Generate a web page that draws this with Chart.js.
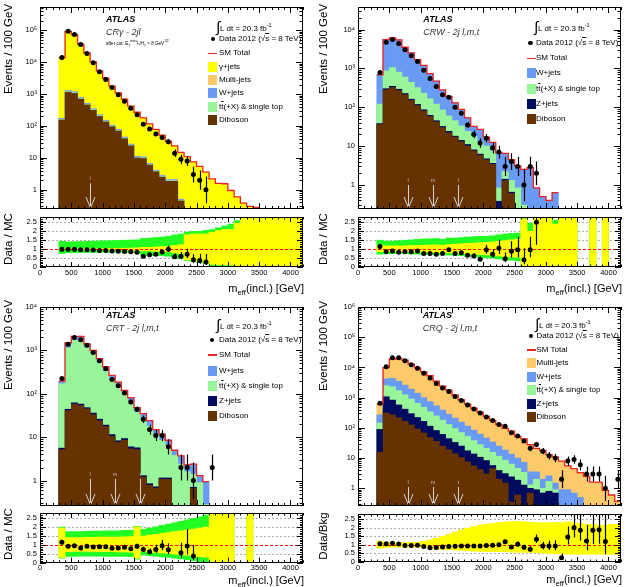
<!DOCTYPE html>
<html lang="en">
<head>
<meta charset="UTF-8">
<title>ATLAS control regions: m_eff(incl.)</title>
<script src="https://cdn.jsdelivr.net/npm/chart.js"></script>
<style>
  body { margin: 0; background: #fff; }
  #page { position: relative; width: 627px; height: 587px; overflow: hidden;
          font-family: "Liberation Sans", Arial, sans-serif; color: #000; }
  canvas { position: absolute; }
  .t { position: absolute; white-space: nowrap; line-height: 1; transform: translateY(-50%); }
  .t sub, .t sup { font-size: 70%; line-height: 0; }
  .rot { transform: translate(-50%, -50%) rotate(-90deg); }
  .right { transform: translate(-100%, -50%); }
  .box { position: absolute; }
  .ol { text-decoration: overline; }
</style>
</head>
<body>
<div id="page"></div>
<script>
// bins of 100 GeV, centres
const binCenters = [350, 450, 550, 650, 750, 850, 950, 1050, 1150, 1250, 1350, 1450, 1550, 1650, 1750,
  1850, 1950, 2050, 2150, 2250, 2350, 2450, 2550, 2650, 2750, 2850, 2950, 3050, 3150, 3250, 3350,
  3450, 3550, 3650, 3750, 3850, 3950, 4050, 4150];
const binWidth = 100;
const xTickValues = [0, 500, 1000, 1500, 2000, 2500, 3000, 3500, 4000];
const ratioTickValues = [0, 0.5, 1, 1.5, 2, 2.5];

// ---- CR gamma - 2jl ----
const crgData = [14000, 93000, 74000, 36000, 18700, 9700, 5000, 2900, 1600, 960, 600, 360, 225, 113, 80, 56, 44, 32, 14, 9, 8, 3, 2, 1];
const crgTotal = [14000, 93000, 74000, 37000, 19500, 10200, 5400, 3150, 1780, 1090, 690, 420, 270, 180, 117, 78, 52, 33, 24, 15, 11, 7.5, 5.4, 3.6, 2.2, 1.6, 1.55, 0.95, 0.6, 0.38, 0.3, 0.28];
const crgMultiTop = [178, 1320, 1210, 805, 530, 356, 230, 155, 109, 80, 46, 27.6, 11.5, 11, 6.9, 4.25, 2.9, 2.13, 2.13, 0.52];
const crgWTop = [174, 1290, 1180, 785, 515, 347, 224, 151, 106, 78, 45, 27, 11.2, 10.8, 6.7, 4.1, 2.8, 2.07, 2.07, 0.5];
const crgTtTop = [163, 1210, 1100, 735, 483, 325, 210, 142, 100, 73.5, 42, 25.2, 10.5, 10.1, 6.3, 3.9, 2.6, 1.94, 1.94, 0.47];
const crgDiboson = [155, 1150, 1050, 700, 460, 310, 200, 135, 95, 70, 40, 24, 10, 9.6, 6, 3.7, 2.5, 1.85, 1.85, 0.45];
const crgRatio = [1.0, 1.0, 1.0, 0.97, 0.96, 0.95, 0.93, 0.92, 0.9, 0.88, 0.87, 0.85, 0.83, 0.6, 0.68, 0.72, 0.84, 1.0, 0.58, 0.6, 0.72, 0.4, 0.37, 0.28];
const crgGreenLo = [0.76, 0.8, 0.8, 0.81, 0.82, 0.82, 0.83, 0.83, 0.83, 0.83, 0.82, 0.82, 0.8, 0.65, 0.65, 0.64, 0.63, 0.6, 0.5, 0.48, 0.35, 0.3, 0.25, 0.2, 0.08, 0.05, 0.05, 0, 0, 0, 0, 0, 0, 0, 0, 0, 0, 0, 0];
const crgGreenHi = [1.44, 1.4, 1.42, 1.43, 1.44, 1.45, 1.46, 1.47, 1.48, 1.49, 1.5, 1.51, 1.52, 1.6, 1.62, 1.65, 1.68, 1.72, 1.8, 1.85, 1.95, 2.0, 2.0, 2.05, 2.1, 2.2, 2.3, 2.4, 2.6, 2.8, 2.8, 2.8, 2.8, 2.8, 2.8, 2.8, 2.8, 2.8, 2.8];
const crgYellowLo = [0.98, 0.99, 0.99, 0.99, 0.98, 0.98, 0.97, 0.97, 0.96, 0.96, 0.95, 0.94, 0.93, 0.9, 0.9, 0.88, 0.86, 0.85, 0.8, 0.75, 0.4, 0.38, 0.32, 0.28, 0.15, 0.12, 0.12, 0.1, 0.05, 0, 0, 0, 0, 0, 0, 0, 0, 0, 0];
const crgYellowHi = [1.02, 1.01, 1.01, 1.01, 1.02, 1.02, 1.03, 1.03, 1.04, 1.04, 1.05, 1.06, 1.07, 1.1, 1.1, 1.12, 1.14, 1.15, 1.2, 1.25, 1.8, 1.85, 1.85, 1.85, 1.95, 2.05, 2.1, 2.1, 2.45, 2.8, 2.8, 2.8, 2.8, 2.8, 2.8, 2.8, 2.8, 2.8, 2.8];

// ---- CRW - 2j l,m,t ----
const crwData = [780, 4700, 5500, 4400, 3000, 2100, 1500, 900, 550, 340, 210, 180, 100, 70, 35, 20, 12, 16, 9, 7, 3, 4, 3, 1, 3, 2];
const crwTotal = [680, 5500, 6100, 5400, 3500, 2500, 1670, 1200, 730, 470, 280, 190, 130, 88, 53, 32, 27, 17, 12.5, 6.7, 6.5, 4.5, 3.1, 2.5, 2.8, 0.84, 0.5, 0.4, 0.63];
const crwTtTop = [120, 870, 1050, 800, 600, 440, 320, 230, 165, 120, 85, 60, 45, 33, 24, 18, 13, 10, 7.5, 0.84, 2.2, 1.3, 0.84, 0.3];
const crwZTop = [38, 300, 345, 290, 225, 160, 118, 86, 62, 45, 32, 24, 18, 14, 11, 8, 6.2, 4.7, 3.6, 0.38, 1.4, 0.65];
const crwDiboson = [36, 280, 320, 270, 210, 150, 110, 80, 58, 42, 30, 22, 17, 13, 10, 7.5, 5.8, 4.4, 3.4, 0.2, 1.3, 0.6];
const crwRatio = [1.15, 0.85, 0.9, 0.82, 0.86, 0.85, 0.9, 0.75, 0.75, 0.72, 0.76, 0.96, 0.76, 0.8, 0.66, 0.62, 0.44, 0.96, 0.72, 1.05, 0.46, 0.88, 0.96, 0.4, 0.96, 2.5];
const crwGreenLo = [0.72, 0.75, 0.75, 0.75, 0.74, 0.73, 0.72, 0.71, 0.7, 0.68, 0.7, 0.67, 0.66, 0.63, 0.6, 0.58, 0.55, 0.52, 0.5, 0.45, 0.4, 0.38, 0.35, 0, 0, 0, 0, 0, 0, 0, 0, 0, null, null, 0, null, 0];
const crwGreenHi = [1.5, 1.45, 1.45, 1.47, 1.5, 1.52, 1.55, 1.57, 1.58, 1.6, 1.55, 1.63, 1.62, 1.65, 1.68, 1.7, 1.72, 1.72, 1.75, 1.8, 1.85, 1.88, 1.9, 2.8, 2.45, 2.8, 2.8, 2.8, 2.62, 2.8, 2.8, 2.8, null, null, 2.8, null, 2.8];
const crwYellowLo = [0.85, 0.87, 0.87, 0.87, 0.86, 0.85, 0.84, 0.83, 0.82, 0.81, 0.82, 0.79, 0.78, 0.76, 0.74, 0.72, 0.7, 0.68, 0.66, 0.62, 0.58, 0.56, 0.55, 0, 0, 0, 0, 0, 0, 0, 0, 0, null, null, 0, null, 0];
const crwYellowHi = [1.2, 1.18, 1.18, 1.18, 1.19, 1.2, 1.21, 1.22, 1.23, 1.24, 1.22, 1.26, 1.28, 1.3, 1.32, 1.34, 1.36, 1.38, 1.4, 1.44, 1.48, 1.52, 1.55, 2.7, 2.0, 2.8, 2.8, 2.8, 2.4, 2.8, 2.8, 2.8, null, null, 2.8, null, 2.8];

// ---- CRT - 2j l,m,t ----
const crtData = [225, 1380, 1990, 1750, 1310, 890, 580, 380, 215, 154, 105, 65, 44, 26, 15, 11, 11, 6, null, 2, 2, 1, null, null, 2];
const crtTotal = [195, 1500, 2100, 2100, 1420, 1000, 645, 420, 265, 185, 120, 82, 48, 35, 24, 15, 11.8, 8.5, 5, 3.7, 2.3, 2.4, 1.3, 0.95];
const crtTtTop = [170, 1150, 1700, 1650, 1150, 800, 510, 330, 205, 145, 95, 64, 37, 27, 18, 11.5, 8.5, 6.2, 3.8, 2.4, 1.6, 1.4, 0.9, 0.28];
const crtZTop = [5.6, 44, 62, 58, 48, 36, 26, 19, 11.5, 8.3, 9.3, 6, 5.7, 1.3, 0.85, 0.72, 1.15, 1.15, null, null, null, 0.7];
const crtDiboson = [5.2, 41, 58, 54, 45, 33, 24, 17.5, 10.4, 7.6, 8.5, 5.4, 5.2, 1.2, 0.78, 0.66, 1.07, 1.07, null, null, null, 0.66];
const crtRatio = [1.15, 0.92, 0.95, 0.83, 0.92, 0.89, 0.9, 0.9, 0.81, 0.83, 0.87, 0.79, 0.92, 0.75, 0.62, 0.75, 0.95, 0.73, null, 0.56, 0.94, 0.38];
const crtGreenLo = [0.25, 0.35, 0.36, 0.37, 0.37, 0.37, 0.37, 0.36, 0.36, 0.35, 0.35, 0.34, 0.2, 0.42, 0.4, 0.37, 0.33, 0.3, 0.26, 0.22, 0.17, 0.12, 0.06, 0.02, 0, 0, 0, 0, null, null, 0];
const crtGreenHi = [2.0, 1.75, 1.75, 1.76, 1.77, 1.78, 1.78, 1.79, 1.8, 1.8, 1.82, 1.83, 2.05, 1.88, 1.95, 2.02, 2.1, 2.17, 2.25, 2.33, 2.42, 2.5, 2.58, 2.68, 2.8, 2.8, 2.8, 2.8, null, null, 2.8];
const crtYellowLo = [0.3, 0.62, 0.63, 0.63, 0.63, 0.63, 0.62, 0.62, 0.62, 0.61, 0.61, 0.6, 0.25, 0.62, 0.6, 0.58, 0.55, 0.52, 0.48, 0.45, 0.42, 0.38, 0.34, 0.3, 0, 0, 0, 0, null, null, 0];
const crtYellowHi = [1.95, 1.42, 1.42, 1.42, 1.43, 1.43, 1.44, 1.44, 1.45, 1.45, 1.46, 1.47, 2.0, 1.5, 1.55, 1.6, 1.65, 1.7, 1.75, 1.8, 1.85, 1.9, 1.95, 2.0, 2.8, 2.8, 2.8, 2.8, null, null, 2.8];

// ---- CRQ - 2j l,m,t ----
const crqData = [650, 10600, 21000, 21000, 16600, 12300, 9400, 6400, 4500, 2960, 2100, 1600, 1100, 800, 575, 425, 310, 230, 174, 130, 114, 69, 54, 37, 21, 28, 17, 12, 10, 2, 8, 9, 6, 3, 3, 3, 1, null, 2];
const crqTotal = [610, 9900, 19000, 20000, 17300, 12800, 9700, 7100, 5400, 3500, 2400, 1780, 1200, 850, 610, 450, 330, 240, 178, 130, 97, 78, 52, 43, 28, 21, 18, 13, 10.7, 8, 5.5, 4.5, 3.3, 2.5, 1.6, 1.6, 0.85, 0.6, 0.37];
const crqWTop = [270, 4200, 4400, 3500, 2600, 1900, 1400, 1000, 740, 540, 390, 285, 210, 155, 115, 84, 62, 46, 34, 25, 18.5, 13.5, 10, 7.3, 3.5, 3.5, 2.0, 2.6, 1.5, 0.9, 0.9, 0.7, 0.5];
const crqTtTop = [145, 2500, 2300, 1700, 1250, 900, 650, 480, 340, 250, 180, 130, 95, 70, 52, 38, 28, 21, 15.5, 11.5, 8.5, 6.3, 4.6, 3.4, 1.3, 2.0, 1.0, 1.7, 0.9];
const crqZTop = [89, 1070, 830, 575, 415, 295, 220, 165, 114, 82, 61, 44, 33, 25, 17.5, 13.7, 10.7, 8.3, 5.7, 3.9, 3.07, 2.4, 1.86, 1.28, 1.0, 0.9, 0.7, 0.8, 0.7];
const crqDiboson = [15.5, 310, 270, 215, 165, 125, 92, 68, 48, 36, 25, 19, 14, 10.5, 7.5, 5.5, 4.2, 3, 4.5, 2.0, 1.5, 0.35, 0.6, 0.2, 0.7];
const crqRatio = [1.07, 1.07, 1.1, 1.05, 0.96, 0.96, 0.97, 0.9, 0.83, 0.85, 0.88, 0.9, 0.92, 0.94, 0.94, 0.94, 0.94, 0.96, 0.98, 1.0, 1.18, 0.88, 1.04, 0.86, 0.74, 1.33, 0.93, 0.93, 0.93, 0.25, 1.46, 2.0, 1.85, 1.22, 1.85, 1.88, 1.2];
const crqYellowLo = [0.8, 0.85, 0.87, 0.87, 0.86, 0.86, 0.85, 0.84, 0.8, 0.77, 0.74, 0.72, 0.7, 0.67, 0.65, 0.63, 0.62, 0.6, 0.6, 0.6, 0.6, 0.58, 0.57, 0.56, 0.56, 0.55, 0.52, 0.5, 0.48, 0.46, 0.45, 0.45, 0.45, 0.45, 0.45, 0.45, 0.45, 0.45, 0.45];
const crqYellowHi = [1.22, 1.15, 1.13, 1.13, 1.14, 1.15, 1.16, 1.2, 1.28, 1.38, 1.5, 1.62, 1.75, 1.88, 1.98, 2.07, 2.15, 2.2, 2.25, 2.3, 2.33, 2.35, 2.37, 2.35, 2.32, 2.3, 2.28, 2.3, 2.3, 2.3, 2.35, 2.3, 2.25, 2.2, 2.2, 2.15, 2.15, 2.2, 2.2];

// signal-region cuts (arrows)
const cutsLMT = [800, 1200, 1600];
const cutLabelsLMT = ['l', 'm', 't'];

const COL = {
  gamma: '#ffff00', multi: '#fcc96b', wjets: '#6a9bf4', ttbar: '#99f599',
  zjets: '#000a5e', diboson: '#663300', total: '#ee2222', band: '#22ff22', mcstat: '#ffff00'
};
const FONT = '"Liberation Sans", Arial, sans-serif';
const page = document.getElementById('page');

const panels = [
  { frame: {l: 40, r: 303, top: 5, bottom: 211, rTop: 215, rBottom: 267}, yRange: [0.25, 5.4e5],
    data: crgData, total: crgTotal, ratio: crgRatio,
    stack: [crgDiboson, crgTtTop, crgWTop, crgMultiTop, crgTotal],
    stackColors: [COL.diboson, COL.ttbar, COL.wjets, COL.multi, COL.gamma],
    bands: [[crgYellowLo, crgYellowHi, COL.mcstat], [crgGreenLo, crgGreenHi, COL.band]],
    cuts: [800], cutLabels: ['l'], arrowTop: 1.6, ratioTitle: 'Data / MC',
    yTitleX: 9, yTitleY: 49, rTitleY: 239, xTitleY: 288,
    atlas: [106, 18.5], region: 'CRγ - 2jl', extra: 'after cut: E<sub>T</sub><sup>miss</sup>/√H<sub>T</sub> &gt; 8 GeV<sup>1/2</sup>',
    legend: {boxX: 208, textX: 219, markX: 212.7, lumi: [216, 25], dataY: 39.3, smY: 53.3,
      boxes: [[COL.gamma, 'γ+jets', 66.7], [COL.multi, 'Multi-jets', 80], [COL.wjets, 'W+jets', 93.3],
              [COL.ttbar, 'tt̄', 107], [COL.diboson, 'Diboson', 120.3]]} },
  { frame: {l: 358, r: 621, top: 5, bottom: 211, rTop: 215, rBottom: 267}, yRange: [0.24, 3.8e4],
    data: crwData, total: crwTotal, ratio: crwRatio,
    stack: [crwDiboson, crwZTop, crwTtTop, crwTotal],
    stackColors: [COL.diboson, COL.zjets, COL.ttbar, COL.wjets],
    bands: [[crwYellowLo, crwYellowHi, COL.mcstat], [crwGreenLo, crwGreenHi, COL.band]],
    cuts: cutsLMT, cutLabels: cutLabelsLMT, arrowTop: 1.0, ratioTitle: 'Data / MC',
    yTitleX: 324, yTitleY: 49, rTitleY: 239, xTitleY: 288,
    atlas: [423.3, 19], region: 'CRW - 2j l,m,t',
    legend: {boxX: 527, textX: 536, markX: 530.5, lumi: [534, 25], dataY: 42.7, smY: 58.3,
      boxes: [[COL.wjets, 'W+jets', 73.3], [COL.ttbar, 'tt̄', 89.3], [COL.zjets, 'Z+jets', 104.3],
              [COL.diboson, 'Diboson', 118.7]]} },
  { frame: {l: 40, r: 303, top: 305, bottom: 508, rTop: 511, rBottom: 562.7}, yRange: [0.26, 1e4],
    data: crtData, total: crtTotal, ratio: crtRatio,
    stack: [crtDiboson, crtZTop, crtTtTop, crtTotal],
    stackColors: [COL.diboson, COL.zjets, COL.ttbar, COL.wjets],
    bands: [[crtYellowLo, crtYellowHi, COL.mcstat], [crtGreenLo, crtGreenHi, COL.band]],
    cuts: cutsLMT, cutLabels: cutLabelsLMT, arrowTop: 1.1, ratioTitle: 'Data / MC',
    yTitleX: 9, yTitleY: 345, rTitleY: 534, xTitleY: 580,
    atlas: [106, 315], region: 'CRT - 2j l,m,t',
    legend: {boxX: 208, textX: 219, markX: 212.3, lumi: [216, 323.3], dataY: 340, smY: 355,
      boxes: [[COL.wjets, 'W+jets', 370.7], [COL.ttbar, 'tt̄', 386], [COL.zjets, 'Z+jets', 401],
              [COL.diboson, 'Diboson', 416]]} },
  { frame: {l: 358, r: 621, top: 305, bottom: 508, rTop: 511.7, rBottom: 561.7}, yRange: [0.26, 1e6],
    data: crqData, total: crqTotal, ratio: crqRatio,
    stack: [crqDiboson, crqZTop, crqTtTop, crqWTop, crqTotal],
    stackColors: [COL.diboson, COL.zjets, COL.ttbar, COL.wjets, COL.multi],
    bands: [[crqYellowLo, crqYellowHi, COL.mcstat]],
    cuts: cutsLMT, cutLabels: cutLabelsLMT, arrowTop: 1.1, ratioTitle: 'Data/Bkg',
    yTitleX: 324, yTitleY: 346, rTitleY: 536, xTitleY: 579,
    atlas: [422.7, 315], region: 'CRQ - 2j l,m,t',
    legend: {boxX: 527, textX: 536.5, markX: 530.7, lumi: [535, 322.3], dataY: 335.7, smY: 350,
      boxes: [[COL.multi, 'Multi-jets', 363.3], [COL.wjets, 'W+jets', 376.7], [COL.ttbar, 'tt̄', 390],
              [COL.zjets, 'Z+jets', 403.7], [COL.diboson, 'Diboson', 417]]} }
];

// ---------- helpers ----------
function pts(values) {
  const out = [];
  values.forEach((v, i) => { if (v != null) out.push({x: binCenters[i], y: v}); });
  return out;
}
function rangePts(lo, hi) {
  const out = [];
  lo.forEach((v, i) => { if (v != null && hi[i] != null) out.push({x: binCenters[i], y: [v, hi[i]]}); });
  return out;
}
function stepPts(values) {
  const out = values.map((v, i) => ({x: binCenters[i] - binWidth / 2, y: v}));
  const last = values.length - 1;
  out.push({x: binCenters[last] + binWidth / 2, y: values[last]});
  return out;
}
// ATLAS-style Poisson error bars
const errUp = n => 0.5 + Math.sqrt(n + 0.25);
const errDown = n => Math.sqrt(n + 0.25) - 0.5;

function addCanvas(left, top, w, h) {
  const c = document.createElement('canvas');
  c.width = w; c.height = h;
  c.style.left = left + 'px'; c.style.top = top + 'px';
  c.style.width = w + 'px'; c.style.height = h + 'px';
  page.appendChild(c);
  return c;
}
function txt(html, x, y, size, cls, style) {
  const d = document.createElement('div');
  d.className = 't' + (cls ? ' ' + cls : '');
  d.innerHTML = html;
  d.style.left = x + 'px'; d.style.top = y + 'px'; d.style.fontSize = size + 'px';
  if (style) Object.assign(d.style, style);
  page.appendChild(d);
  return d;
}
function rect(x, y, w, h, color, extra) {
  const d = document.createElement('div');
  d.className = 'box';
  Object.assign(d.style, {left: x + 'px', top: y + 'px', width: w + 'px', height: h + 'px', background: color}, extra || {});
  page.appendChild(d);
}
const SUP = {'-': '⁻', '0': '⁰', '1': '¹', '2': '²', '3': '³', '4': '⁴', '5': '⁵', '6': '⁶'};
function logLabel(v) {
  const l = Math.log10(v), r = Math.round(l);
  if (Math.abs(l - r) > 1e-6) return '';
  if (r === 0) return '1';
  if (r === 1) return '10';
  return '10' + String(r).split('').map(c => SUP[c]).join('');
}
const fixedTicks = values => scale => { scale.ticks = values.map(v => ({value: v})); };

// ---------- plugins ----------
const rootFrame = {
  id: 'rootFrame',
  afterDraw(chart, args, o) {
    const {ctx, chartArea: a, scales: {x, y}} = chart;
    ctx.save();
    ctx.strokeStyle = '#000';
    ctx.lineWidth = 1;
    ctx.beginPath();
    for (let v = x.min; v <= x.max; v += 100) {
      const px = Math.round(x.getPixelForValue(v)) + 0.5;
      const len = v % 500 === 0 ? o.xMajor : o.xMinor;
      ctx.moveTo(px, a.bottom); ctx.lineTo(px, a.bottom - len);
      ctx.moveTo(px, a.top); ctx.lineTo(px, a.top + len);
    }
    const yt = [];
    if (y.type === 'logarithmic') {
      for (let e = Math.floor(Math.log10(y.min)); e <= Math.ceil(Math.log10(y.max)); e++) {
        for (let m = 1; m <= 9; m++) {
          const v = m * Math.pow(10, e);
          if (v >= y.min && v <= y.max) yt.push([v, m === 1]);
        }
      }
    } else {
      for (let k = 0; k * 0.1 <= y.max + 1e-9; k++) yt.push([k * 0.1, k % 5 === 0]);
    }
    yt.forEach(([v, major]) => {
      const py = Math.round(y.getPixelForValue(v)) + 0.5;
      const len = major ? o.yMajor : o.yMinor;
      ctx.moveTo(a.left, py); ctx.lineTo(a.left + len, py);
      ctx.moveTo(a.right, py); ctx.lineTo(a.right - len, py);
    });
    ctx.stroke();
    ctx.strokeRect(Math.round(a.left) + 0.5, Math.round(a.top) + 0.5,
                   Math.round(a.right - a.left) - 1, Math.round(a.bottom - a.top) - 1);
    ctx.restore();
  }
};

const errorBars = {
  id: 'errorBars',
  beforeDatasetDraw(chart, args) {
    const ds = chart.data.datasets[args.index];
    if (!ds.errHi) return;
    const {ctx, chartArea: a, scales: {x, y}} = chart;
    ctx.save();
    ctx.beginPath(); ctx.rect(a.left, a.top, a.right - a.left, a.bottom - a.top); ctx.clip();
    ctx.strokeStyle = '#000'; ctx.lineWidth = 1.2;
    ctx.beginPath();
    ds.data.forEach((p, i) => {
      const px = Math.round(x.getPixelForValue(p.x)) + 0.5;
      const lo = p.y - ds.errLo[i];
      const top = y.getPixelForValue(p.y + ds.errHi[i]);
      const bot = (y.type === 'logarithmic' && lo <= 0) ? a.bottom + 5 : y.getPixelForValue(lo);
      ctx.moveTo(px, top); ctx.lineTo(px, bot);
    });
    ctx.stroke();
    ctx.restore();
  }
};

const ratioLines = {
  id: 'ratioLines',
  beforeDatasetsDraw(chart) {
    const {ctx, chartArea: a, scales: {y}} = chart;
    if (y.type === 'logarithmic') return;
    ctx.save();
    ctx.strokeStyle = '#9a9a9a'; ctx.lineWidth = 0.8; ctx.setLineDash([2, 2]);
    [0.5, 1.5, 2, 2.5].forEach(v => {
      const py = Math.round(y.getPixelForValue(v)) + 0.5;
      ctx.beginPath(); ctx.moveTo(a.left, py); ctx.lineTo(a.right, py); ctx.stroke();
    });
    ctx.restore();
  },
  afterDatasetDraw(chart, args) {
    const ds = chart.data.datasets[args.index];
    if (!ds.unityAfter) return;
    const {ctx, chartArea: a, scales: {y}} = chart;
    ctx.save();
    ctx.strokeStyle = '#ff0000'; ctx.lineWidth = 1; ctx.setLineDash([3, 2]);
    const py = Math.round(y.getPixelForValue(1)) + 0.5;
    ctx.beginPath(); ctx.moveTo(a.left, py); ctx.lineTo(a.right, py); ctx.stroke();
    ctx.restore();
  }
};

const cutArrows = {
  id: 'cutArrows',
  afterDatasetsDraw(chart, args, o) {
    if (!o.cuts) return;
    const {ctx, chartArea: a, scales: {x, y}} = chart;
    ctx.save();
    ctx.strokeStyle = '#d4d4d4'; ctx.lineWidth = 1;
    o.cuts.forEach(c => {
      const px = Math.round(x.getPixelForValue(c)) + 0.5;
      const top = y.getPixelForValue(o.top);
      const tip = a.bottom - 1;
      ctx.beginPath();
      ctx.moveTo(px, top); ctx.lineTo(px, tip);
      ctx.moveTo(px - 4.5, tip - 11); ctx.lineTo(px, tip); ctx.lineTo(px + 4.5, tip - 11);
      ctx.stroke();
    });
    ctx.restore();
  }
};

const tickFont = {family: FONT, size: 7.5};

// ---------- build ----------
function makeMain(p) {
  const f = p.frame;
  const c = addCanvas(f.l - 40, f.top - 2, f.r - f.l + 44, f.bottom - f.top + 4);
  const dataPts = pts(p.data);
  const datasets = [
    {type: 'scatter', data: dataPts, pointRadius: 2.5, pointBackgroundColor: '#000', pointBorderWidth: 0,
     errHi: dataPts.map(q => errUp(q.y)), errLo: dataPts.map(q => errDown(q.y))},
    {type: 'line', data: stepPts(p.total), stepped: 'before', borderColor: COL.total, borderWidth: 1.3,
     pointRadius: 0, fill: false}
  ];
  p.stack.forEach((vals, i) => datasets.push({
    type: 'bar', data: pts(vals), backgroundColor: p.stackColors[i], borderWidth: 0,
    grouped: false, barPercentage: 1, categoryPercentage: 1
  }));
  return new Chart(c, {
    type: 'bar',
    data: {datasets},
    options: {
      responsive: false, animation: false, devicePixelRatio: 1,
      layout: {padding: {left: 0, right: 4, top: 2, bottom: 2}},
      plugins: {legend: {display: false}, tooltip: {enabled: false},
        rootFrame: {xMajor: 6, xMinor: 3, yMajor: 7, yMinor: 3.5},
        cutArrows: {cuts: p.cuts, top: p.arrowTop}},
      scales: {
        x: {type: 'linear', min: 0, max: 4200, offset: false, display: false},
        y: {type: 'logarithmic', min: p.yRange[0], max: p.yRange[1],
            grid: {display: false, drawTicks: false}, border: {display: false},
            ticks: {autoSkip: false, padding: 3, font: tickFont, color: '#000', callback: logLabel},
            afterFit(s) { s.width = 40; s.paddingTop = 0; s.paddingBottom = 0; }}
      }
    },
    plugins: [rootFrame, errorBars, cutArrows]
  });
}

function makeRatio(p) {
  const f = p.frame;
  const h = Math.round(f.rBottom - f.rTop + 18);
  const c = addCanvas(f.l - 40, f.rTop - 2, f.r - f.l + 44, h);
  const rp = [];
  p.ratio.forEach((r, i) => { if (r != null && p.data[i]) rp.push({x: binCenters[i], y: r, n: p.data[i]}); });
  const datasets = [
    {type: 'scatter', data: rp, pointRadius: 2.5, pointBackgroundColor: '#000', pointBorderWidth: 0,
     errHi: rp.map(q => q.y * errUp(q.n) / q.n), errLo: rp.map(q => q.y * errDown(q.n) / q.n)}
  ];
  p.bands.forEach(([lo, hi, color], i) => datasets.push({
    type: 'bar', data: rangePts(lo, hi), backgroundColor: color, borderWidth: 0,
    grouped: false, barPercentage: 1, categoryPercentage: 1, unityAfter: i === 0
  }));
  return new Chart(c, {
    type: 'bar',
    data: {datasets},
    options: {
      responsive: false, animation: false, devicePixelRatio: 1,
      layout: {padding: {left: 0, right: 4, top: 2, bottom: h - (f.rBottom - f.rTop) - 2 - 14}},
      plugins: {legend: {display: false}, tooltip: {enabled: false},
        rootFrame: {xMajor: 5, xMinor: 2.5, yMajor: 6, yMinor: 3}},
      scales: {
        x: {type: 'linear', min: 0, max: 4200, offset: false,
            grid: {display: false, drawTicks: false}, border: {display: false},
            afterBuildTicks: fixedTicks(xTickValues),
            ticks: {autoSkip: false, maxRotation: 0, padding: 1, font: tickFont, color: '#000',
                    callback: v => String(v)},
            afterFit(s) { s.height = 14; s.paddingLeft = 0; s.paddingRight = 0; }},
        y: {type: 'linear', min: 0, max: 2.8,
            grid: {display: false, drawTicks: false}, border: {display: false},
            afterBuildTicks: fixedTicks(ratioTickValues),
            ticks: {autoSkip: false, padding: 3, font: tickFont, color: '#000', callback: v => String(v)},
            afterFit(s) { s.width = 40; s.paddingTop = 0; s.paddingBottom = 0; }}
      }
    },
    plugins: [ratioLines, rootFrame, errorBars]
  });
}

function addLabels(p, mainChart) {
  const f = p.frame, L = p.legend;
  txt('Events / 100 GeV', p.yTitleX, p.yTitleY, 11.5, 'rot');
  txt(p.ratioTitle, p.yTitleX, p.rTitleY, 11.5, 'rot');
  txt('m<sub>eff</sub>(incl.) [GeV]', f.r + 1, p.xTitleY, 11, 'right');
  txt('ATLAS', p.atlas[0], p.atlas[1], 9, null, {fontWeight: 'bold', fontStyle: 'italic'});
  txt(p.region, p.atlas[0], p.atlas[1] + 13, 9, null, {fontStyle: 'italic', color: '#333'});
  if (p.extra) txt(p.extra, p.atlas[0], p.atlas[1] + 25, 4.6);
  // legend
  txt('<span style="font-size:15px;position:relative;top:1px">∫</span>L dt = 20.3 fb<sup>-1</sup>', L.lumi[0], L.lumi[1], 8);
  rect(L.markX - 2.2, L.dataY - 2.2, 4.4, 4.4, '#000', {borderRadius: '50%'});
  txt('Data 2012 (√<span class="ol">s</span> = 8 TeV)', L.textX, L.dataY, 8);
  rect(L.boxX, L.smY - 0.7, 8.5, 1.4, COL.total);
  txt('SM Total', L.textX, L.smY, 8);
  L.boxes.forEach(([color, label, y]) => {
    rect(L.boxX, y - 5, 8.5, 10, color);
    const html = label === 'tt̄' ? 't<span class="ol">t</span>(+X) &amp; single top' : label;
    txt(html, L.textX, y, 8);
  });
  // cut labels above arrows
  const x = mainChart.scales.x, y = mainChart.scales.y;
  p.cuts.forEach((c, i) => {
    const px = f.l - 40 + x.getPixelForValue(c);
    const py = f.top - 2 + y.getPixelForValue(p.arrowTop) - 4;
    txt(p.cutLabels[i], px, py, 5.5, null, {color: '#bbbbbb', transform: 'translate(-50%, -50%)'});
  });
}

panels.forEach(p => {
  const m = makeMain(p);
  makeRatio(p);
  addLabels(p, m);
});
</script>
</body>
</html>
